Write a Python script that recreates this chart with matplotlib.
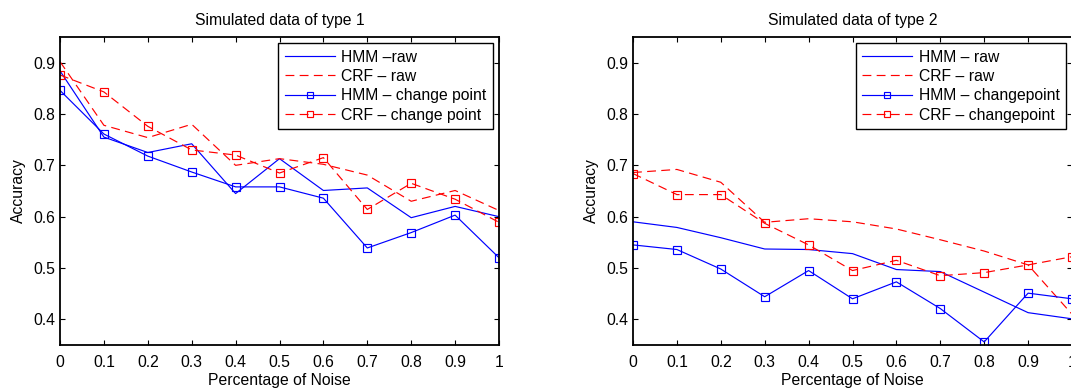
import numpy as np
import matplotlib
matplotlib.use("Agg")
import matplotlib.pyplot as plt

# Níveis de ruído (eixo x)
ruido = [0, 0.1, 0.2, 0.3, 0.4, 0.5, 0.6, 0.7, 0.8, 0.9, 1.0]

# Dados simulados tipo 1
hmm_raw_1 = [0.884, 0.755, 0.725, 0.742, 0.645, 0.713, 0.651, 0.656, 0.598, 0.620, 0.600]
crf_raw_1 = [0.902, 0.778, 0.754, 0.780, 0.700, 0.713, 0.702, 0.681, 0.630, 0.651, 0.612]
hmm_cp_1 = [0.846, 0.761, 0.718, 0.687, 0.658, 0.658, 0.636, 0.539, 0.569, 0.603, 0.520]
crf_cp_1 = [0.876, 0.843, 0.776, 0.730, 0.720, 0.685, 0.715, 0.614, 0.665, 0.634, 0.589]

# Dados simulados tipo 2
hmm_raw_2 = [0.590, 0.579, 0.559, 0.537, 0.536, 0.528, 0.497, 0.493, 0.453, 0.413, 0.401]
crf_raw_2 = [0.686, 0.692, 0.667, 0.589, 0.596, 0.590, 0.576, 0.555, 0.533, 0.506, 0.410]
hmm_cp_2 = [0.545, 0.536, 0.498, 0.444, 0.495, 0.440, 0.473, 0.421, 0.356, 0.451, 0.440]
crf_cp_2 = [0.684, 0.643, 0.643, 0.587, 0.545, 0.495, 0.515, 0.485, 0.491, 0.506, 0.522]

titulos = ["Simulated data of type 1", "Simulated data of type 2"]
rotulos_1 = ["HMM \u2013raw", "CRF \u2013 raw", "HMM \u2013 change point", "CRF \u2013 change point"]
rotulos_2 = ["HMM \u2013 raw", "CRF \u2013 raw", "HMM \u2013 changepoint", "CRF \u2013 changepoint"]
xticks = [0, 0.1, 0.2, 0.3, 0.4, 0.5, 0.6, 0.7, 0.8, 0.9, 1]
xticklabels = ["0", "0.1", "0.2", "0.3", "0.4", "0.5", "0.6", "0.7", "0.8", "0.9", "1"]
yticks = [0.4, 0.5, 0.6, 0.7, 0.8, 0.9]

plt.rcParams['font.family'] = ['Liberation Sans', 'DejaVu Sans']
FS = 11.3


def desenhar(ax, hmm_raw, crf_raw, hmm_cp, crf_cp, titulo, rotulos):
    dash = (0, (7.5, 4.5))
    ax.plot(ruido, hmm_raw, color='blue', lw=0.85, label=rotulos[0])
    ax.plot(ruido, crf_raw, color='red', lw=0.85, linestyle=dash, label=rotulos[1])
    ax.plot(ruido, hmm_cp, color='blue', lw=0.85, marker='s', ms=5.5, mfc='none',
            mew=0.85, label=rotulos[2])
    ax.plot(ruido, crf_cp, color='red', lw=0.85, linestyle=dash, marker='s', ms=5.5,
            mfc='none', mew=0.85, label=rotulos[3])
    ax.set_xlim(0, 1)
    ax.set_ylim(0.35, 0.95)
    ax.set_xticks(xticks)
    ax.set_xticklabels(xticklabels)
    ax.set_yticks(yticks)
    ax.tick_params(direction='in', top=True, right=True, length=3.6, width=0.8,
                   labelsize=FS)
    ax.tick_params(axis='x', pad=7)
    ax.tick_params(axis='y', pad=3.5)
    for s in ax.spines.values():
        s.set_linewidth(1.3)
    ax.set_title(titulo, fontsize=FS, pad=9)
    ax.set_xlabel("Percentage of Noise", fontsize=FS, labelpad=2)
    ax.set_ylabel("Accuracy", fontsize=FS, labelpad=5)
    leg = ax.legend(loc='upper right', fontsize=FS, numpoints=1, handlelength=3.2,
                    handletextpad=0.4, borderpad=0.4, labelspacing=0.28,
                    borderaxespad=0.4, fancybox=False, framealpha=1,
                    edgecolor='black', markerscale=0.85)
    leg.get_frame().set_linewidth(1.0)


fig = plt.figure(figsize=(10.71, 3.88), dpi=100)
ax1 = fig.add_axes([60 / 1071, 1 - 345 / 388, 439 / 1071, 308 / 388])
ax2 = fig.add_axes([633 / 1071, 1 - 345 / 388, 439 / 1071, 308 / 388])

desenhar(ax1, hmm_raw_1, crf_raw_1, hmm_cp_1, crf_cp_1, titulos[0], rotulos_1)
desenhar(ax2, hmm_raw_2, crf_raw_2, hmm_cp_2, crf_cp_2, titulos[1], rotulos_2)

fig.savefig("out.png", dpi=100)
